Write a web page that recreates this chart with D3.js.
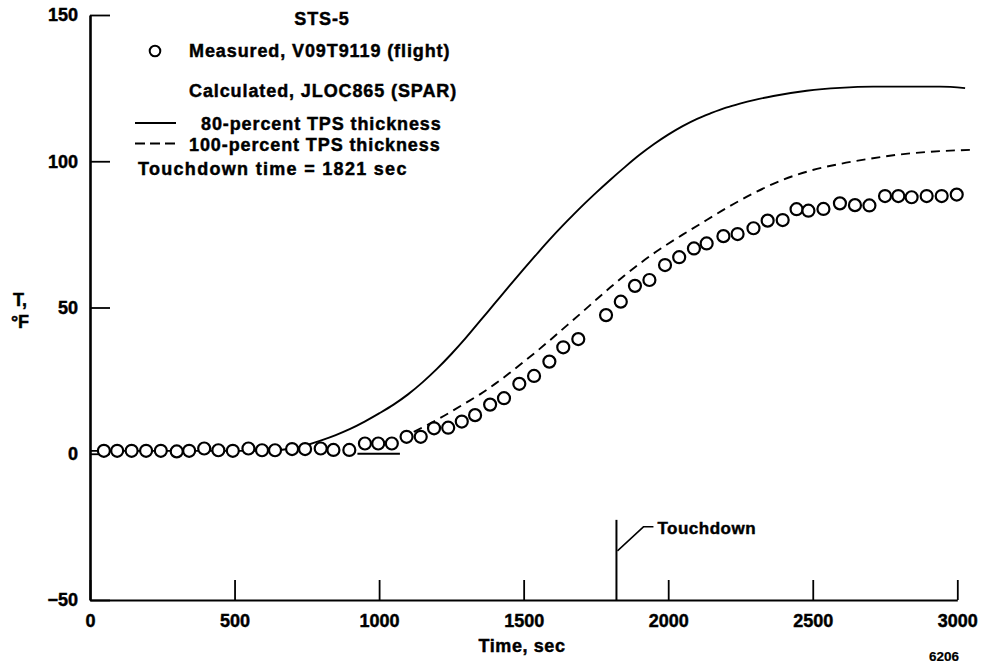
<!DOCTYPE html>
<html>
<head>
<meta charset="utf-8">
<script src="https://cdn.jsdelivr.net/npm/d3@7"></script>
<style>
  html, body { margin: 0; padding: 0; background: #fff; }
  svg { display: block; }
  text { font-family: "Liberation Sans", Arial, Helvetica, sans-serif; font-weight: bold; fill: #000;
         stroke: #000; stroke-width: 0.45px; }
</style>
</head>
<body>
<svg id="chart" width="982" height="666"></svg>
<script>
// Measured flight temperatures, V09T9119 (time in sec, T in °F)
const measuredTime = [48, 94, 144, 194, 245, 300, 343, 395, 444, 494, 548, 595, 640, 699, 744, 798, 842, 897,
  951, 997, 1044, 1095, 1144, 1190, 1239, 1286, 1332, 1384, 1432, 1485, 1536, 1589, 1637, 1689,
  1785, 1836, 1885, 1935, 1989, 2038, 2089, 2133, 2191, 2240, 2295, 2344, 2396, 2444, 2485, 2537,
  2594, 2646, 2696, 2750, 2796, 2842, 2894, 2946, 2998];
const measuredTemp = [1, 1, 1, 1, 1, 0.8, 1, 1.8, 1.2, 1, 1.8, 1.2, 1.2, 1.6, 1.6, 1.8, 1.3, 1.3,
  3.5, 3.5, 3.5, 5.8, 5.8, 8.7, 8.9, 11, 13.2, 16.8, 19, 23.9, 26.6, 31.5, 36.4, 39.2,
  47.4, 52, 57.4, 59.4, 64.5, 67.2, 70.2, 71.9, 74.4, 75.1, 77.1, 79.7, 79.9, 83.6, 83.1, 83.7,
  85.6, 85, 84.9, 88.1, 88.1, 87.7, 88.1, 88.1, 88.6];

// Calculated, JLOC865 (SPAR): 80-percent TPS thickness
const calc80Time = [0, 300, 600, 700, 750, 800, 850, 900, 950, 1000, 1050, 1100, 1150, 1200, 1250, 1300,
  1350, 1400, 1450, 1500, 1550, 1600, 1650, 1700, 1750, 1800, 1850, 1900, 1950, 2000, 2050, 2100,
  2150, 2200, 2248, 2300, 2364, 2479, 2594, 2709, 2825, 2940, 3027];
const calc80Temp = [1, 1, 1, 1.8, 3, 4.6, 6.4, 8.5, 11, 13.8, 16.8, 20.3, 24.4, 29, 34.1, 39.6,
  45.5, 51.4, 57.3, 63.1, 68.8, 74.3, 79.5, 84.5, 89.2, 93.7, 98, 102.1, 105.8, 109.1, 112, 114.5,
  116.5, 118.3, 119.7, 121, 122.3, 124.1, 125.1, 125.5, 125.5, 125.5, 125];

// Calculated, JLOC865 (SPAR): 100-percent TPS thickness
const calc100Time = [1120, 1200, 1300, 1350, 1400, 1450, 1500, 1550, 1600, 1650, 1700, 1750, 1800, 1850,
  1900, 1950, 2000, 2050, 2133, 2200, 2248, 2300, 2400, 2500, 2600, 2700, 2800, 2900, 3044];
const calc100Temp = [7.5, 11.6, 17.4, 20.4, 23.8, 27.5, 31.4, 35.4, 39.6, 43.9, 48.2, 52.6, 56.9, 61,
  64.9, 68.5, 71.8, 74.9, 79.9, 83.9, 86.6, 89.3, 93.8, 97, 99.2, 100.9, 102.3, 103.2, 103.9];

// short flat piece of the calculated trace at 0 °F
const flatTime = [925, 1072];
const flatTemp = [0, 0];

const touchdownTime = 1821;
const touchdownMarkTop = -22.6;

const xTicks = [0, 500, 1000, 1500, 2000, 2500, 3000];
const yTicks = [-50, 0, 50, 100, 150];

const svg = d3.select("#chart");

const x = d3.scaleLinear().domain([0, 3000]).range([90, 957.3]);
const y = d3.scaleLinear().domain([-50, 150]).range([600, 15]);

const zip = (a, b) => a.map((v, i) => [v, b[i]]);
const line = d3.line().x(d => x(d[0])).y(d => y(d[1])).curve(d3.curveMonotoneX);

// axes
const yAxis = d3.axisLeft(y).tickValues(yTicks).tickSize(-20).tickSizeOuter(0).tickPadding(12)
  .tickFormat(d => d < 0 ? "\u2212" + Math.abs(d) : String(d));
const gy = svg.append("g").attr("transform", `translate(${x(0)},0)`).call(yAxis);
gy.select(".domain").attr("stroke", "#000").attr("stroke-width", 2.6);
gy.selectAll(".tick line").attr("stroke", "#000").attr("stroke-width", 1.8);
gy.selectAll(".tick text").style("font-size", "18px").style("font-family", "Liberation Sans, Arial, sans-serif").style("font-weight", "bold");

const xAxis = d3.axisBottom(x).tickValues(xTicks).tickSize(-20).tickSizeOuter(0).tickPadding(14)
  .tickFormat(d3.format("d"));
const gx = svg.append("g").attr("transform", `translate(0,${y(-50)})`).call(xAxis);
gx.select(".domain").attr("stroke", "#000").attr("stroke-width", 2.2);
gx.selectAll(".tick line").attr("stroke", "#000").attr("stroke-width", 1.8);
gx.selectAll(".tick text").style("font-size", "18px").style("font-family", "Liberation Sans, Arial, sans-serif").style("font-weight", "bold");

// axis titles
svg.append("text").attr("x", 522).attr("y", 652).attr("text-anchor", "middle")
  .style("font-size", "18px").style("letter-spacing", "0.6px").text("Time, sec");
svg.append("text").attr("x", 20).attr("y", 306).attr("text-anchor", "middle")
  .style("font-size", "18px").text("T,");
svg.append("text").attr("x", 20).attr("y", 328).attr("text-anchor", "middle")
  .style("font-size", "18px").text("\u00B0F");
svg.append("text").attr("x", 944).attr("y", 661).attr("text-anchor", "middle")
  .style("font-size", "13.5px").style("stroke-width", "0.2px").text("6206");

// calculated curves
svg.append("path").datum(zip(calc80Time, calc80Temp)).attr("d", line)
  .attr("fill", "none").attr("stroke", "#000").attr("stroke-width", 1.9);
svg.append("path").datum(zip(calc100Time, calc100Temp)).attr("d", line)
  .attr("fill", "none").attr("stroke", "#000").attr("stroke-width", 1.9).attr("stroke-dasharray", "9,6");
svg.append("path").datum(zip(flatTime, flatTemp)).attr("d", line)
  .attr("fill", "none").attr("stroke", "#000").attr("stroke-width", 1.9);

// measured points
svg.append("g").selectAll("circle").data(zip(measuredTime, measuredTemp)).join("circle")
  .attr("cx", d => x(d[0])).attr("cy", d => y(d[1])).attr("r", 6)
  .attr("fill", "#fff").attr("stroke", "#000").attr("stroke-width", 2.2);

// touchdown marker
const tdx = x(touchdownTime);
svg.append("line").attr("x1", tdx).attr("x2", tdx).attr("y1", y(touchdownMarkTop)).attr("y2", y(-50))
  .attr("stroke", "#000").attr("stroke-width", 2);
svg.append("path").attr("d", `M${tdx + 1},${y(touchdownMarkTop) + 31} L${tdx + 27},${y(touchdownMarkTop) + 7} L${tdx + 37},${y(touchdownMarkTop) + 7}`)
  .attr("fill", "none").attr("stroke", "#000").attr("stroke-width", 1.5);
svg.append("text").attr("x", tdx + 41).attr("y", y(touchdownMarkTop) + 14)
  .style("font-size", "17px").style("letter-spacing", "0.5px").text("Touchdown");

// legend
const legend = svg.append("g").style("font-size", "18px").style("letter-spacing", "0.9px");
legend.append("text").attr("x", 322).attr("y", 25).attr("text-anchor", "middle").text("STS-5");
legend.append("circle").attr("cx", 155).attr("cy", 51).attr("r", 5.3)
  .attr("fill", "#fff").attr("stroke", "#000").attr("stroke-width", 2);
legend.append("text").attr("x", 189).attr("y", 57).text("Measured, V09T9119 (flight)");
legend.append("text").attr("x", 189).attr("y", 97).text("Calculated, JLOC865 (SPAR)");
legend.append("line").attr("x1", 135).attr("x2", 176).attr("y1", 123).attr("y2", 123)
  .attr("stroke", "#000").attr("stroke-width", 2);
legend.append("text").attr("x", 201).attr("y", 130).text("80-percent TPS thickness");
legend.append("line").attr("x1", 135).attr("x2", 176).attr("y1", 143.5).attr("y2", 143.5)
  .attr("stroke", "#000").attr("stroke-width", 2).attr("stroke-dasharray", "10,5");
legend.append("text").attr("x", 189).attr("y", 151).text("100-percent TPS thickness");
legend.append("text").attr("x", 138).attr("y", 175).style("letter-spacing", "1.3px").text("Touchdown time = 1821 sec");
</script>
</body>
</html>
